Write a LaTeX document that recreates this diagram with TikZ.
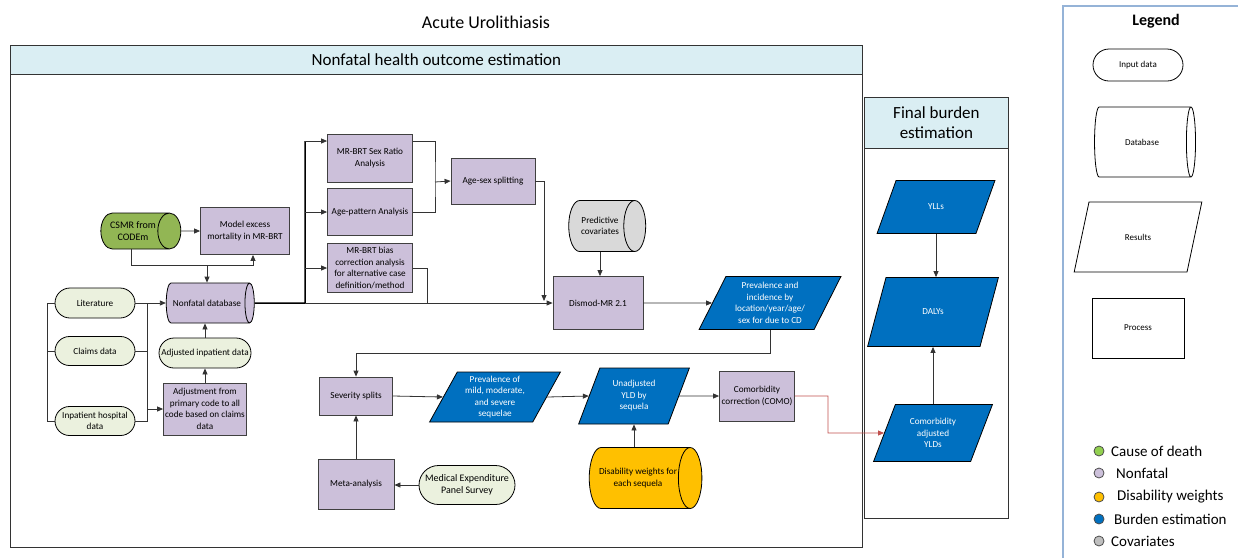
\documentclass[tikz,border=0pt]{standalone}
\usepackage{fontspec}
\setmainfont{Carlito}
\usepackage{tikz}
\usetikzlibrary{positioning, arrows.meta, shapes.geometric, shapes.misc}

\definecolor{nfpurple}{RGB}{204,192,218}
\definecolor{codgreen}{RGB}{146,182,84}
\definecolor{inputgreen}{RGB}{235,241,222}
\definecolor{burdenblue}{RGB}{0,112,192}
\definecolor{dwyellow}{RGB}{255,192,0}
\definecolor{covgray}{RGB}{217,217,217}
\definecolor{headblue}{RGB}{218,238,243}
\definecolor{comored}{RGB}{192,80,77}
\definecolor{legendframe}{RGB}{149,179,215}
\definecolor{dotgreen}{RGB}{146,208,80}
\definecolor{dotgray}{RGB}{191,191,191}

\begin{document}
\begin{tikzpicture}[
    x=1pt, y=-1pt,
    every node/.style={font=\fontsize{9.2}{11.5}\selectfont, align=center, inner sep=1pt},
    proc/.style={rectangle, draw=black!75, line width=0.8pt, fill=#1, minimum width=84pt, minimum height=48pt},
    proc/.default=nfpurple,
    inp/.style={rounded rectangle, draw=black, line width=0.8pt, fill=#1, minimum width=82pt, minimum height=29pt},
    inp/.default=inputgreen,
    dbase/.style={cylinder, draw=black, line width=0.8pt, fill=#1, shape aspect=1.1},
    dbase/.default=nfpurple,
    res/.style={trapezium, trapezium stretches=true, trapezium left angle=63, trapezium right angle=117, draw=black, line width=0.8pt, fill=#1, text=white},
    res/.default=burdenblue,
    lane/.style={rectangle, draw=black!80, line width=0.8pt, anchor=north west},
    head/.style={lane, fill=headblue, font=\fontsize{17}{20}\selectfont},
    arr/.style={-{Triangle[length=6pt, width=5pt]}, draw=black!80, line width=0.8pt},
    link/.style={draw=black!80, line width=0.8pt},
    mainln/.style={draw=black, line width=1.5pt},
    redarr/.style={-{Triangle[length=6pt, width=5pt]}, draw=comored, line width=0.8pt},
    dot/.style={circle, draw=black!70, line width=0.8pt, fill=#1, minimum size=10pt, inner sep=0pt},
    dottext/.style={anchor=west, font=\fontsize{15}{17}\selectfont, inner sep=0pt},
]
    \useasboundingbox (0,0) rectangle (1238,558);

    % --- Title and swimlanes ---
    \node[font=\fontsize{18}{21}\selectfont] (title) at (486,22) {Acute Urolithiasis};
    \node[lane, minimum width=852pt, minimum height=502pt] (nflane) at (10,45) {};
    \node[head, minimum width=852pt, minimum height=29pt] (nfhead) at (10,45) {Nonfatal health outcome estimation};
    \node[lane, minimum width=144pt, minimum height=421pt] (fblane) at (864,97) {};
    \node[head, minimum width=144pt, minimum height=51pt] (fbhead) at (864,97) {Final burden\\estimation};

    % --- Inputs on the left (cylinders: height = axis length) ---
    \node[dbase=codgreen, minimum height=80pt, minimum width=36pt, font=\fontsize{10}{12}\selectfont] (csmr) at (133,231) {CSMR from\\CODEm};
    \node[proc, minimum width=89pt, minimum height=47pt] (model) at (245,231) {Model excess\\mortality in MR-BRT};
    \node[dbase, minimum height=88pt, minimum width=40pt] (nfdb) at (207,303) {Nonfatal database};
    \node[inp, minimum height=30pt] (lit) at (95,303) {Literature};
    \node[inp] (claims) at (95,351) {Claims data};
    \node[inp] (inpat) at (95,421) {Inpatient hospital\\data};
    \node[inp, minimum width=92pt, minimum height=30pt, inner xsep=0pt] (adjinp) at (205,353) {Adjusted inpatient data};
    \node[proc, minimum width=83pt, minimum height=52pt] (adjust) at (205,409) {Adjustment from\\primary code to all\\code based on claims\\data};

    % --- MR-BRT analyses ---
    \node[proc, minimum width=85pt, minimum height=48pt] (sexratio) at (370,158) {MR-BRT Sex Ratio\\Analysis};
    \node[proc, minimum width=85pt, minimum height=47pt] (agepat) at (370,212) {Age-pattern Analysis};
    \node[proc, minimum width=85pt, minimum height=49pt] (bias) at (370,268) {MR-BRT bias\\correction analysis\\for alternative case\\definition/method};
    \node[proc, minimum width=84pt, minimum height=46pt] (agesex) at (493,181) {Age-sex splitting};

    % --- Dismod ---
    \node[dbase=covgray, minimum height=77pt, minimum width=51pt] (predcov) at (600,226) {Predictive\\covariates};
    \node[proc, minimum width=90pt, minimum height=53pt] (dismod) at (598,303) {Dismod-MR 2.1};
    \node[res, minimum width=142pt, minimum height=53pt] (previnc) at (770,303) {Prevalence and\\incidence by\\location/year/age/\\sex for due to CD};

    % --- Severity and YLDs ---
    \node[proc, minimum width=73pt, minimum height=38pt] (sevsplit) at (356,396) {Severity splits};
    \node[res, minimum width=131pt, minimum height=50pt] (prevmild) at (495,397) {Prevalence of\\mild, moderate,\\and severe\\sequelae};
    \node[res, trapezium left angle=67, trapezium right angle=113, minimum width=111pt, minimum height=56pt] (unadj) at (634,396) {Unadjusted\\YLD by\\sequela};
    \node[proc, minimum width=75pt, minimum height=50pt] (como) at (757,396) {Comorbidity\\correction (COMO)};
    \node[proc, minimum width=76pt, minimum height=50pt] (meta) at (356,484) {Meta-analysis};
    \node[inp, minimum width=98pt, minimum height=39pt, font=\fontsize{10}{12}\selectfont] (meps) at (467,485) {Medical Expenditure\\Panel Survey};
    \node[dbase=dwyellow, minimum height=103pt, minimum width=61pt] (dw) at (638,478) {Disability weights for\\each sequela};

    % --- Final burden ---
    \node[res, trapezium left angle=62, trapezium right angle=118, minimum width=118pt, minimum height=53pt] (ylls) at (936,207) {YLLs};
    \node[res, trapezium left angle=60, trapezium right angle=120, minimum width=131pt, minimum height=69pt] (dalys) at (933,312) {DALYs};
    \node[res, trapezium left angle=66, trapezium right angle=114, minimum width=119pt, minimum height=57pt] (cayld) at (933,433) {Comorbidity\\adjusted\\YLDs};

    % --- Legend ---
    \draw[legendframe, line width=1.2pt] (1063,558) -- (1063,6) -- (1238,6);
    \node[font=\fontsize{16}{19}\selectfont\bfseries] (lgtitle) at (1156,21) {Legend};
    \node[inp=white, minimum width=92pt, minimum height=32pt, font=\fontsize{9}{11}\selectfont] (lginp) at (1138,65) {Input data};
    \node[dbase=white, minimum height=101pt, minimum width=70pt, font=\fontsize{9}{11}\selectfont] (lgdb) at (1142,142) {Database};
    \node[res=white, text=black, minimum width=128pt, minimum height=70pt, font=\fontsize{9}{11}\selectfont] (lgres) at (1138,237) {Results};
    \node[proc=white, draw=black, minimum width=92pt, minimum height=60pt, font=\fontsize{9}{11}\selectfont] (lgproc) at (1138,328) {Process};
    \node[dot=dotgreen] (lgcod) at (1099,451) {};
    \node[dottext] (lgcodt) at (1111,451) {Cause of death};
    \node[dot=nfpurple] (lgnf) at (1099,473) {};
    \node[dottext] (lgnft) at (1116,473) {Nonfatal};
    \node[dot=dwyellow] (lgdw) at (1099,497) {};
    \node[dottext] (lgdwt) at (1117,497) {Disability weights};
    \node[dot=burdenblue] (lgbe) at (1099,519) {};
    \node[dottext] (lgbet) at (1114,519) {Burden estimation};
    \node[dot=dotgray] (lgcov) at (1099,541) {};
    \node[dottext] (lgcovt) at (1111,541) {Covariates};

    % --- Wiring: cause of death ---
    \coordinate (cmj) at (131,265);
    \draw[arr] (csmr.east) -- (model.west);
    \draw[arr] (csmr.south -| cmj) -- (cmj) -| ([xshift=8pt]model.south);
    \draw[arr] (nfdb.north |- cmj) -- (nfdb.north);

    % --- Wiring: input data brackets ---
    \coordinate (brkL) at (47,303);
    \coordinate (brkR) at (147,303);
    \draw[link] (lit.west) -- (lit.west -| brkL) -- (inpat.west -| brkL) -- (inpat.west);
    \draw[link] (claims.west) -- (claims.west -| brkL);
    \draw[link] (lit.east) -- (lit.east -| brkR) -- (inpat.east -| brkR) -- (inpat.east);
    \draw[link] (claims.east) -- (claims.east -| brkR);
    \draw[arr] (lit.east -| brkR) -- (nfdb.west);
    \draw[arr] (adjust.west -| brkR) -- (adjust.west);
    \draw[arr] (adjust.north) -- (adjinp.south);
    \draw[arr] (adjinp.north) -- (adjinp.north |- nfdb.south);

    % --- Wiring: nonfatal database to MR-BRT and Dismod ---
    \coordinate (brj) at (305,303);
    \coordinate (sxin) at ([yshift=17pt]sexratio.west);
    \draw[mainln] (nfdb.east) -- (brj) -- (brj |- sxin);
    \draw[arr] (brj |- sxin) -- (sxin);
    \draw[arr] (brj |- agepat.west) -- (agepat.west);
    \draw[arr] (brj |- bias.west) -- (bias.west);
    \draw[arr] (brj) -- (dismod.west);
    \coordinate (sxj) at (435,182);
    \draw[link] ([yshift=17pt]sexratio.east) -| (sxj) |- (agepat.east);
    \draw[arr] (sxj) -- (agesex.west);
    \coordinate (asj) at (544,301);
    \draw[arr] (agesex.east) -| (asj);
    \draw[link] (bias.east) -| (427,303);
    \draw[arr] (predcov.south) -- (predcov.south |- dismod.north);
    \draw[arr] (dismod.east) -- (previnc.west);

    % --- Wiring: severity and YLDs ---
    \draw[arr] (previnc.south) -- ++(0,23) -| (sevsplit.north);
    \draw[arr] (sevsplit.east) -- (prevmild.west);
    \draw[arr] (prevmild.east) -- (unadj.west);
    \draw[arr] (unadj.east) -- (como.west);
    \draw[arr] (meta.north) -- (sevsplit.south);
    \draw[arr] (meps.west) -- (meta.east |- meps.west);
    \draw[arr] (unadj.south |- dw.north) -- (unadj.south);

    % --- Wiring: final burden ---
    \coordinate (redj) at (828,433);
    \draw[redarr] (como.east) -| (redj) -- (cayld.west);
    \draw[arr] (ylls.south) -- (ylls.south |- dalys.north);
    \draw[arr] (cayld.north) -- (cayld.north |- dalys.south);
\end{tikzpicture}
\end{document}
